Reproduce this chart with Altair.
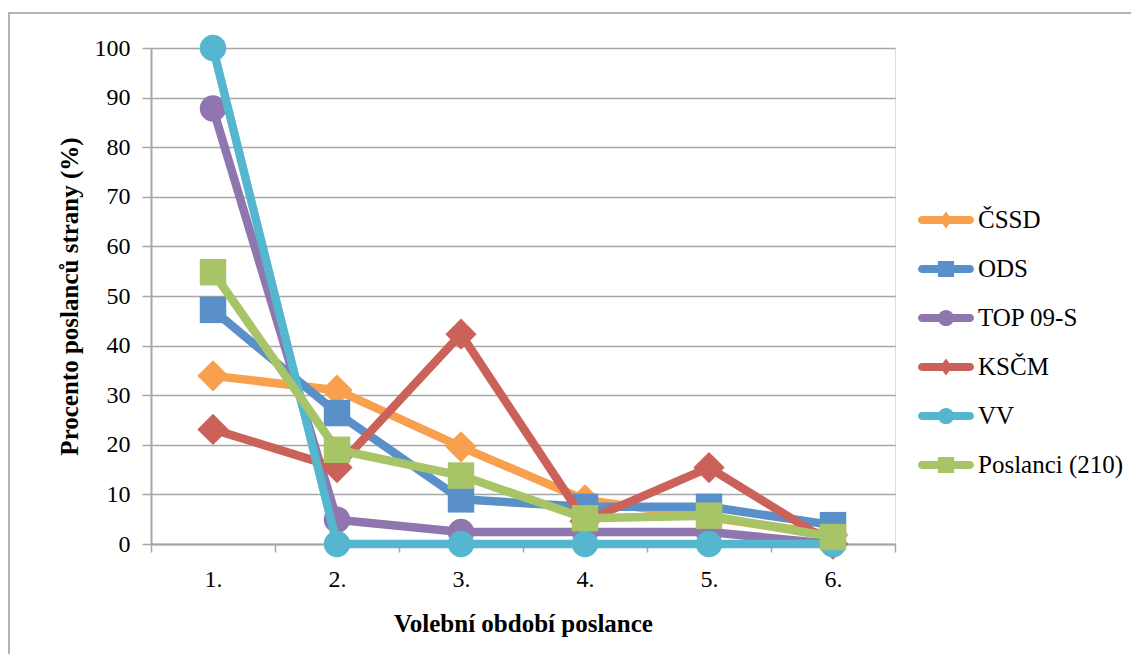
import altair as alt
import pandas as pd

periods = ["1.", "2.", "3.", "4.", "5.", "6."]
parties = ["ČSSD", "ODS", "TOP 09-S", "KSČM", "VV", "Poslanci (210)"]
cssd = [33.9, 31.0, 19.6, 8.9, 5.4, 1.8]
ods = [47.2, 26.4, 9.0, 7.5, 7.5, 3.8]
top09 = [87.8, 4.9, 2.4, 2.4, 2.4, 0.0]
kscm = [23.1, 15.4, 42.3, 4.6, 15.4, 0.0]
vv = [100.0, 0.0, 0.0, 0.0, 0.0, 0.0]
poslanci = [54.8, 19.0, 13.8, 5.2, 5.7, 1.4]

series = [cssd, ods, top09, kscm, vv, poslanci]
colors = ["#F8A04E", "#5A90C9", "#8F76AE", "#CB625A", "#55B7CF", "#A7C466"]
shapes = ["diamond", "square", "circle", "diamond", "circle", "square"]
marker_sizes = [980, 700, 700, 980, 700, 700]

rows = []
for p, vals in zip(parties, series):
    for per, v in zip(periods, vals):
        rows.append({"obdobi": per, "strana": p, "hodnota": v})
df = pd.DataFrame(rows)

FONT = "Liberation Serif"
GRID = "#a6a6a6"

x_enc = alt.X(
    "obdobi:O",
    sort=periods,
    bandPosition=0.5,
    scale=alt.Scale(type="band", domain=periods, paddingInner=0, paddingOuter=0),
    axis=alt.Axis(
        title="Volební období poslance",
        tickBand="extent",
        tickSize=8,
        tickColor=GRID,
        tickWidth=1.5,
        domainColor=GRID,
        domainWidth=2,
        labelFont=FONT,
        labelFontSize=24,
        labelColor="black",
        labelPadding=15,
        labelAngle=0,
        titleFont=FONT,
        titleFontSize=25,
        titleFontWeight="bold",
        titleColor="black",
        titlePadding=20,
        grid=False,
    ),
)
y_enc = alt.Y(
    "hodnota:Q",
    scale=alt.Scale(domain=[0, 100], nice=False),
    axis=alt.Axis(
        title="Procento poslanců strany (%)",
        values=list(range(0, 101, 10)),
        tickSize=9,
        tickColor=GRID,
        tickWidth=1.5,
        domainColor=GRID,
        domainWidth=2,
        gridColor=GRID,
        gridWidth=1.5,
        labelFont=FONT,
        labelFontSize=24,
        labelColor="black",
        labelPadding=12,
        titleFont=FONT,
        titleFontSize=25,
        titleFontWeight="bold",
        titleColor="black",
        titlePadding=12,
    ),
)

# Legend symbols: a thick line with the series marker in its middle
line_part = "M-0.72,-0.28 L2.72,-0.28 A0.28,0.28 0 0 1 2.72,0.28 L-0.72,0.28 A0.28,0.28 0 0 1 -0.72,-0.28 Z "
legend_marks = {
    "diamond": "M1,-0.6 L1.45,0 L1,0.6 L0.55,0 Z",
    "square": "M0.42,-0.58 L1.58,-0.58 L1.58,0.58 L0.42,0.58 Z",
    "circle": "M1.58,0 A0.58,0.58 0 1 1 0.42,0 A0.58,0.58 0 1 1 1.58,0 Z",
}
legend_paths = [line_part + legend_marks[s] for s in shapes]

frame_src = alt.Chart(pd.DataFrame({"a": [0]}))
frame_left = frame_src.mark_rule(stroke="#b3b3b3", strokeWidth=2, clip=False).encode(
    x=alt.value(-142), y=alt.value(-35), y2=alt.value(800)
)
frame_top = frame_src.mark_rule(stroke="#b3b3b3", strokeWidth=2, clip=False).encode(
    x=alt.value(-143), x2=alt.value(1200), y=alt.value(-35)
)

layers = [frame_left, frame_top]
for p, c, s, ms in zip(parties, colors, shapes, marker_sizes):
    base = alt.Chart(df).transform_filter(alt.datum.strana == p)
    line = base.mark_line(
        strokeWidth=8.5, strokeJoin="round", strokeCap="round", color=c
    ).encode(x=x_enc, y=y_enc)
    pts = base.mark_point(
        filled=True, shape=s, size=ms, color=c, opacity=1, strokeWidth=0
    ).encode(x=x_enc, y=y_enc)
    layers.extend([line, pts])

leg = alt.Legend(
    title=None,
    orient="none",
    legendX=767,
    legendY=158,
    symbolSize=784,
    symbolOpacity=1,
    symbolStrokeWidth=0,
    labelFont=FONT,
    labelFontSize=25,
    labelColor="black",
    labelOffset=32,
    labelLimit=0,
    rowPadding=22,
    padding=0,
)
legend_layer = alt.Chart(df).mark_point(filled=True, opacity=0).encode(
    x=x_enc,
    y=y_enc,
    color=alt.Color("strana:N", scale=alt.Scale(domain=parties, range=colors), legend=leg),
    shape=alt.Shape("strana:N", scale=alt.Scale(domain=parties, range=legend_paths), legend=leg),
)
layers.append(legend_layer)

chart = (
    alt.layer(*layers)
    .properties(
        width=744,
        height=496,
        autosize=alt.AutoSizeParams(type="none"),
        padding={"left": 143, "top": 40, "right": 236, "bottom": 110},
    )
    .configure_view(strokeWidth=0)
    .configure(background="white")
)

chart.save("out.html", embed_options={"renderer": "svg", "actions": False})
